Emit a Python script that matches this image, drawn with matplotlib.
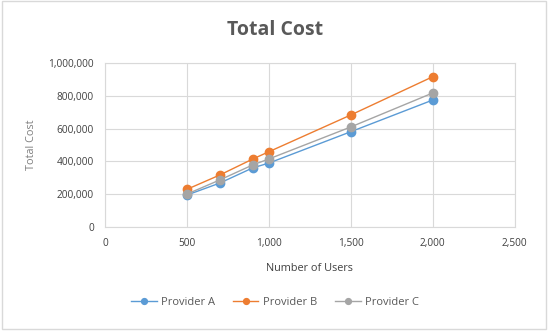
import matplotlib
matplotlib.use("Agg")
import matplotlib.pyplot as plt
from matplotlib.ticker import FuncFormatter
from matplotlib.patches import Rectangle

users = [500, 700, 900, 1000, 1500, 2000]
provider_a = [195000, 268000, 360000, 390000, 581000, 774000]
provider_b = [230000, 317000, 414000, 459000, 683000, 916000]
provider_c = [201000, 287000, 378000, 415000, 610000, 817000]
series_names = ["Provider A", "Provider B", "Provider C"]
colors = ["#5b9bd5", "#ed7d31", "#a5a5a5"]

plt.rcParams["font.family"] = ["Open Sans", "DejaVu Sans"]

fig = plt.figure(figsize=(5.5, 3.31), dpi=100)
ax = fig.add_axes([0.191, 0.314, 0.745, 0.496])

for vals, name, c in zip([provider_a, provider_b, provider_c], series_names, colors):
    ax.plot(users, vals, color=c, lw=1.0, marker="o", ms=6, mec=c, mfc=c,
            label=name, zorder=3)

ax.set_xlim(0, 2500)
ax.set_ylim(0, 1000000)
ax.set_xticks(range(0, 2501, 500))
ax.set_yticks(range(0, 1000001, 200000))
fmt = FuncFormatter(lambda v, p: f"{int(v):,}")
ax.xaxis.set_major_formatter(fmt)
ax.yaxis.set_major_formatter(fmt)
ax.grid(True, color="#d9d9d9", lw=0.8)
ax.set_axisbelow(True)
for s in ax.spines.values():
    s.set_color("#d9d9d9")
    s.set_linewidth(0.8)
ax.tick_params(length=0, labelsize=7.3, colors="#404040", pad=8)

ax.set_xlabel("Number of Users", fontsize=7.8, color="#404040", labelpad=10)
ax.set_ylabel("Total Cost", fontsize=7.8, color="#7f7f7f", labelpad=8)
fig.text(0.5, 0.91, "Total Cost", ha="center", va="center", fontsize=14,
         fontweight="bold", color="#595959")

fig.legend(loc="center", bbox_to_anchor=(0.5, 0.085), ncol=3, frameon=False,
           fontsize=8, labelcolor="#595959", handlelength=2.3, handletextpad=0.4,
           columnspacing=1.6, markerscale=0.7)

fig.patches.append(Rectangle((0.003, 0.006), 0.99, 0.99, transform=fig.transFigure,
                             fill=False, ec="#d9d9d9", lw=1))

fig.savefig("out.png", dpi=100)
